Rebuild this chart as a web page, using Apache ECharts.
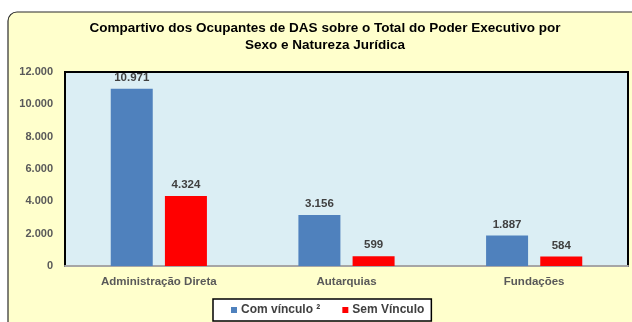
<!DOCTYPE html>
<html>
<head>
<meta charset="utf-8">
<script src="https://cdn.jsdelivr.net/npm/echarts@6/dist/echarts.min.js"></script>
<style>
  html, body { margin: 0; padding: 0; background: #ffffff; }
  #chart { width: 632px; height: 322px; }
</style>
</head>
<body>
<div id="chart"></div>
<script>
// Natureza jurídica (categorias do eixo X)
const categorias = ['Administração Direta', 'Autarquias', 'Fundações'];
// Ocupantes de DAS por tipo de vínculo
const comVinculo = [10971, 3156, 1887];
const semVinculo = [4324, 599, 584];
// Escala do eixo Y
const yMin = 0, yMax = 12000, yIntervalo = 2000;

const fmt = v => String(v).replace(/\B(?=(\d{3})+(?!\d))/g, '.');
const fonte = 'Liberation Sans, Arial, sans-serif';

const chart = echarts.init(document.getElementById('chart'), null, { renderer: 'canvas' });
chart.setOption({
  backgroundColor: '#ffffff',
  animation: false,
  graphic: [{
    type: 'rect',
    z: -10,
    silent: true,
    shape: { x: 8, y: 12, width: 640, height: 330, r: [9, 0, 0, 0] },
    style: { fill: '#FFFFCC', stroke: '#2b2b2b', lineWidth: 1.2 }
  }],
  title: {
    text: 'Compartivo dos Ocupantes de DAS sobre o Total do Poder Executivo por\nSexo e Natureza Jurídica',
    left: 320,
    textAlign: 'center',
    top: 15,
    textStyle: { fontFamily: fonte, fontSize: 13.5, fontWeight: 'bold', color: '#000', lineHeight: 17 }
  },
  legend: {
    left: 213,
    top: 299,
    width: 220,
    backgroundColor: '#ffffff',
    borderColor: '#000',
    borderWidth: 1.5,
    padding: [5, 7, 5, 18],
    itemWidth: 6,
    itemHeight: 6,
    itemGap: 22,
    icon: 'rect',
    textStyle: { fontFamily: fonte, fontSize: 12, fontWeight: 'bold', color: '#404040', padding: [0, 0, 0, -1] },
    data: ['Com vínculo ²', 'Sem Vínculo']
  },
  grid: {
    left: 65, top: 72, right: 4, bottom: 56,
    show: true,
    backgroundColor: '#DBEEF4',
    borderColor: '#000',
    borderWidth: 2
  },
  xAxis: {
    type: 'category',
    data: categorias,
    axisLine: { lineStyle: { color: '#A6A6A6', width: 2 } },
    axisTick: { show: false },
    axisLabel: { fontFamily: fonte, fontSize: 11.5, fontWeight: 'bold', color: '#595959', margin: 10 }
  },
  yAxis: {
    type: 'value',
    min: yMin, max: yMax, interval: yIntervalo,
    splitLine: { show: false },
    axisLine: { show: false },
    axisTick: { show: false },
    axisLabel: { fontFamily: fonte, fontSize: 11, fontWeight: 'bold', color: '#595959', margin: 12, formatter: fmt }
  },
  series: [
    {
      name: 'Com vínculo ²',
      type: 'bar',
      data: comVinculo,
      barWidth: 42,
      barGap: '29%',
      itemStyle: { color: '#4F81BD' },
      label: { show: true, position: 'top', distance: 5, formatter: p => fmt(p.value),
        fontFamily: fonte, fontSize: 11.5, fontWeight: 'bold', color: '#404040' }
    },
    {
      name: 'Sem Vínculo',
      type: 'bar',
      data: semVinculo,
      barWidth: 42,
      itemStyle: { color: '#FF0000' },
      label: { show: true, position: 'top', distance: 5, formatter: p => fmt(p.value),
        fontFamily: fonte, fontSize: 11.5, fontWeight: 'bold', color: '#404040' }
    }
  ]
});
</script>
</body>
</html>
